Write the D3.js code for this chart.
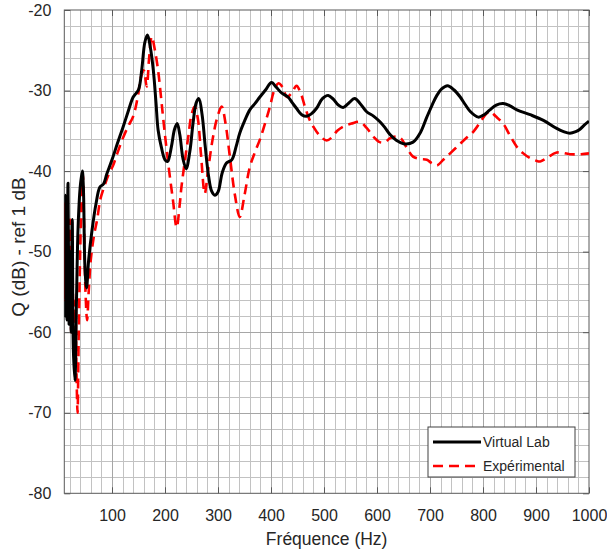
<!DOCTYPE html>
<html>
<head>
<meta charset="utf-8">
<script src="https://cdn.jsdelivr.net/npm/d3@7"></script>
<style>
  html, body { margin: 0; padding: 0; background: #fff; }
  svg { display: block; font-family: "Liberation Sans", Arial, sans-serif; }
</style>
</head>
<body>
<svg id="chart" width="607" height="554"></svg>
<script>
// Simulated response (Virtual Lab)
const vlFreq = [10, 11, 12, 13.5, 15, 17, 19, 21, 23, 25, 27, 30, 33, 36, 40, 44, 46, 49, 52, 56,
  62, 70, 77, 84, 90, 100, 110, 120, 130, 140, 150, 156, 162, 167, 172, 178, 183, 187, 193, 200,
  205, 212, 218, 223, 228, 234, 240, 247, 253, 259, 264, 270, 276, 282, 288, 294, 300, 308, 316, 326,
  334, 341, 350, 360, 370, 379, 390, 401, 410, 420, 432, 440, 448, 458, 467, 476, 486, 497, 508, 518,
  527, 536, 546, 558, 568, 580, 594, 606, 615, 625, 637, 650, 668, 682, 694, 704, 713, 722, 733, 745,
  757, 766, 776, 791, 802, 813, 825, 838, 851, 864, 889, 914, 939, 952, 964, 975, 983, 991, 1000];
const vlDb = [-55, -43, -58, -47, -58.5, -41.5, -59, -50, -60, -46, -62, -66, -56, -47, -42, -40, -42, -52, -54.5, -51,
  -47.5, -44, -42, -41.6, -40.4, -38.6, -36.6, -34.7, -32.7, -30.8, -29.9, -27.5, -24, -23.1, -24.5, -27.5, -31.5, -34.9, -37, -38.6,
  -38.8, -37, -34.8, -34.1, -35.5, -38.5, -39.7, -37.5, -34, -31.5, -31, -33, -37, -40.5, -42.5, -43, -42.6, -40.2, -39, -38.6,
  -37, -35.3, -33.8, -32.4, -31.6, -30.8, -29.9, -29, -29.6, -30.3, -30.8, -31.5, -32.2, -33, -33.2, -32.9, -32.2, -31, -30.6, -31.1,
  -31.8, -32.1, -31.6, -31, -31.6, -32.6, -33.2, -33.9, -34.6, -35.5, -36.2, -36.6, -36.4, -35.2, -33.3, -31.8, -30.6, -29.8, -29.4, -29.9,
  -30.8, -31.7, -32.6, -33.3, -33, -32.4, -31.8, -31.6, -31.9, -32.4, -33, -33.7, -34.7, -35.1, -35.3, -35.1, -34.8, -34.3, -33.8];

// Measured response (Expérimental)
const expFreq = [10, 11, 12, 13, 14, 15.5, 17, 19, 21, 23, 25, 28, 31, 33, 35, 37, 40, 43, 45, 47,
  50, 53, 56, 60, 66, 72, 78, 85, 93, 102, 110, 120, 130, 140, 148, 156, 160, 165.5, 170, 175,
  181, 187, 192, 197, 206, 215, 222, 228, 231, 238, 244, 250, 256, 262, 268, 275, 281, 290, 298, 307,
  314, 322, 332, 341, 350, 360, 370, 379, 390, 398, 406, 414, 422, 430, 440, 448, 456, 464, 472, 480,
  492, 505, 515, 525, 536, 552, 568, 580, 593, 605, 615, 625, 637, 646, 657, 668, 681, 694, 703, 713,
  725, 738, 757, 770, 782, 797, 806, 813, 824, 838, 851, 864, 876, 889, 900, 908, 920, 939, 964, 985, 1000];
const expDb = [-48, -56, -44, -52, -45, -58, -47, -56, -46, -60, -50, -62, -56, -65, -70, -61, -50, -42, -40.5, -46,
  -55, -58.5, -55, -51, -48, -46, -43.5, -42, -40.5, -39.3, -37.8, -36, -34.5, -33.2, -31, -28, -27.5, -29.5, -26, -23.3,
  -25, -27.5, -30.5, -33.7, -39, -43.6, -47, -44, -42, -38.5, -35.7, -33, -32, -33.5, -38, -42.8, -40, -36, -33.5, -32,
  -34, -38, -43, -45.7, -43, -39.5, -37.6, -36.1, -33.8, -32, -30, -29.1, -29.6, -30.8, -30.2, -29.4, -30.3, -32, -33.5, -34.5,
  -35.6, -36.2, -35.8, -35, -34.5, -34.1, -33.9, -34.6, -35.7, -36.4, -36.4, -35.9, -35.7, -36, -37.2, -38.2, -38.5, -38.6, -39, -39.3,
  -38.6, -37.8, -36.6, -35.8, -35.1, -33.7, -32.9, -32.6, -33.2, -34.1, -35.6, -37, -37.8, -38.4, -38.7, -38.8, -38.4, -37.7, -37.9, -37.9, -37.8];

const xTicks = [100, 200, 300, 400, 500, 600, 700, 800, 900, 1000];
const yTicks = [-20, -30, -40, -50, -60, -70, -80];
const seriesNames = ["Virtual Lab", "Expérimental"];

const svg = d3.select("#chart");
const plot = { left: 64.3, right: 589, top: 10, bottom: 493.3 };
const textColor = "#262626";

const x = d3.scaleLinear().domain([10, 1000]).range([plot.left, plot.right]);
const y = d3.scaleLinear().domain([-80, -20]).range([plot.bottom, plot.top]);

// Grid: minor every 20 Hz / 2 dB, major on ticks
const minorX = d3.range(20, 1000, 20).filter(v => v % 100 !== 0);
const minorY = d3.range(-78, -20, 2).filter(v => v % 10 !== 0);
const grid = svg.append("g");
grid.selectAll("line.mx").data(minorX).join("line")
  .attr("x1", d => Math.round(x(d)) + 0.5).attr("x2", d => Math.round(x(d)) + 0.5)
  .attr("y1", plot.top).attr("y2", plot.bottom)
  .attr("stroke", "#c2c2c2").attr("stroke-width", 1);
grid.selectAll("line.my").data(minorY).join("line")
  .attr("y1", d => Math.round(y(d)) + 0.5).attr("y2", d => Math.round(y(d)) + 0.5)
  .attr("x1", plot.left).attr("x2", plot.right)
  .attr("stroke", "#c2c2c2").attr("stroke-width", 1);
grid.selectAll("line.Mx").data(xTicks.slice(0, -1)).join("line")
  .attr("x1", d => Math.round(x(d)) + 0.5).attr("x2", d => Math.round(x(d)) + 0.5)
  .attr("y1", plot.top).attr("y2", plot.bottom)
  .attr("stroke", "#a6a6a6").attr("stroke-width", 1);
grid.selectAll("line.My").data(yTicks.slice(1, -1)).join("line")
  .attr("y1", d => Math.round(y(d)) + 0.5).attr("y2", d => Math.round(y(d)) + 0.5)
  .attr("x1", plot.left).attr("x2", plot.right)
  .attr("stroke", "#a6a6a6").attr("stroke-width", 1);

// Axes (ticks pointing inward, box on all four sides)
const axisColor = "#595959";
function styleAxis(g) {
  g.select(".domain").remove();
  g.selectAll(".tick line").attr("stroke", axisColor);
  g.selectAll(".tick text").attr("fill", textColor).style("font-size", "16px")
    .style("font-family", "'Liberation Sans', Arial, sans-serif");
}
svg.append("g").attr("transform", `translate(0,${plot.bottom})`)
  .call(d3.axisBottom(x).tickValues(xTicks).tickSize(-6).tickPadding(16).tickFormat(d3.format("d")))
  .call(styleAxis);
svg.append("g").attr("transform", `translate(0,${plot.top})`)
  .call(d3.axisTop(x).tickValues(xTicks).tickSize(-6).tickFormat(""))
  .call(styleAxis);
svg.append("g").attr("transform", `translate(${plot.left},0)`)
  .call(d3.axisLeft(y).tickValues(yTicks).tickSize(-6).tickPadding(13).tickFormat(d => d3.format("d")(d).replace("−", "-")))
  .call(styleAxis);
svg.append("g").attr("transform", `translate(${plot.right},0)`)
  .call(d3.axisRight(y).tickValues(yTicks).tickSize(-6).tickFormat(""))
  .call(styleAxis);
svg.append("rect")
  .attr("x", plot.left).attr("y", plot.top)
  .attr("width", plot.right - plot.left).attr("height", plot.bottom - plot.top)
  .attr("fill", "none").attr("stroke", axisColor).attr("stroke-width", 1);

// Curves
svg.append("clipPath").attr("id", "plotClip").append("rect")
  .attr("x", plot.left).attr("y", plot.top)
  .attr("width", plot.right - plot.left).attr("height", plot.bottom - plot.top);
const line = d3.line().x(d => x(d[0])).y(d => y(d[1])).curve(d3.curveCatmullRom.alpha(0.5));
const curves = svg.append("g").attr("clip-path", "url(#plotClip)");
curves.append("path")
  .datum(d3.zip(expFreq, expDb))
  .attr("d", line).attr("fill", "none")
  .attr("stroke", "#ff0000").attr("stroke-width", 2.6)
  .attr("stroke-dasharray", "10,6");
curves.append("path")
  .datum(d3.zip(vlFreq, vlDb))
  .attr("d", line).attr("fill", "none")
  .attr("stroke", "#000000").attr("stroke-width", 3).attr("stroke-linejoin", "round");

// Axis titles
svg.append("text")
  .attr("x", (plot.left + plot.right) / 2).attr("y", 545)
  .attr("text-anchor", "middle").attr("fill", textColor).style("font-size", "17.5px")
  .text("Fréquence (Hz)");
svg.append("text")
  .attr("transform", "translate(25,247) rotate(-90)")
  .attr("text-anchor", "middle").attr("fill", textColor).style("font-size", "19px")
  .text("Q (dB) - ref 1 dB");

// Legend
const legend = svg.append("g").attr("transform", "translate(428,427)");
legend.append("rect").attr("width", 147).attr("height", 50)
  .attr("fill", "#fff").attr("stroke", "#404040").attr("stroke-width", 1);
const legendStyles = [
  { color: "#000000", width: 3, dash: null },
  { color: "#ff0000", width: 2.6, dash: "10,6" }
];
seriesNames.forEach((name, i) => {
  const yy = 15 + i * 24;
  legend.append("line").attr("x1", 5).attr("x2", 53).attr("y1", yy).attr("y2", yy)
    .attr("stroke", legendStyles[i].color).attr("stroke-width", legendStyles[i].width)
    .attr("stroke-dasharray", legendStyles[i].dash);
  legend.append("text").attr("x", 55).attr("y", yy + 5)
    .attr("fill", textColor).style("font-size", "14px").text(name);
});
</script>
</body>
</html>
